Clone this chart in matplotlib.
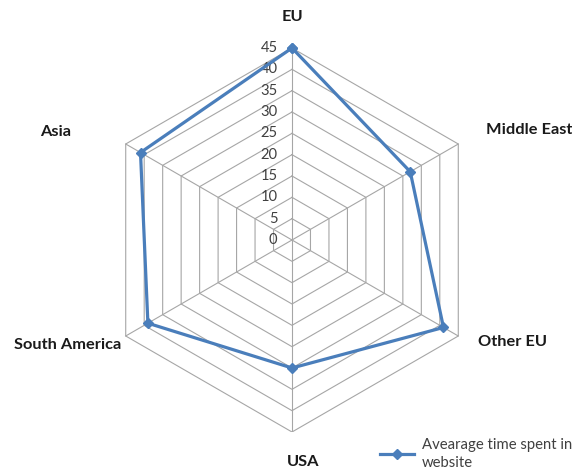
import numpy as np
import matplotlib
matplotlib.use("Agg")
import matplotlib.pyplot as plt

plt.rcParams['font.family'] = ['Lato', 'DejaVu Sans']

categories = ['EU', 'Middle East', 'Other EU', 'USA', 'South America', 'Asia']
values = [45, 32, 41, 30, 39, 41]
series_name = 'Avearage time spent in\nwebsite'
ticks = [0, 5, 10, 15, 20, 25, 30, 35, 40, 45]

R = 45
W, H = 572, 471
cx, cy, rad = 292, 240, 192   # centre and radius of the web in pixels

fig = plt.figure(figsize=(W / 100, H / 100), dpi=100)
ax = fig.add_axes([(cx - rad) / W, (H - cy - rad) / H, 2 * rad / W, 2 * rad / H])
ax.set_xlim(-R, R)
ax.set_ylim(-R, R)
ax.axis('off')

n = len(categories)
ang = np.pi / 2 - np.arange(n) * 2 * np.pi / n
ux, uy = np.cos(ang), np.sin(ang)

# hexagon grid + spokes
for t in ticks[1:]:
    ax.plot(np.append(ux, ux[0]) * t, np.append(uy, uy[0]) * t,
            color='#a6a6a6', lw=0.8, zorder=1)
for i in range(n):
    ax.plot([0, ux[i] * R], [0, uy[i] * R], color='#a6a6a6', lw=0.8, zorder=1)

# tick labels along the EU spoke
for t in ticks:
    ax.text(-3.4, t, str(t), ha='right', va='center', fontsize=10.6,
            color='#404040')

# data
v = np.array(values, dtype=float)
ax.plot(np.append(ux * v, ux[0] * v[0]), np.append(uy * v, uy[0] * v[0]),
        color='#4a7ebb', lw=2.3, marker='D', markersize=5.5,
        label=series_name, zorder=3, clip_on=False)

# category labels (pixel positions from the reference)
lab_pos = [(292, 17, 'center'), (486, 130, 'left'), (478, 342, 'left'),
           (303, 462, 'center'), (14, 345, 'left'), (40, 132, 'left')]
for name, (px, py, ha) in zip(categories, lab_pos):
    fig.text(px / W, 1 - py / H, name, ha=ha, va='center', fontsize=11.8,
             fontweight='bold', color='#1a1a1a')

ax.legend(loc='upper left', bbox_to_anchor=(380 / W, 1 - 438 / H),
          bbox_transform=fig.transFigure, frameon=False, fontsize=10.7,
          borderpad=0, borderaxespad=0, handlelength=2.3, handletextpad=0.5,
          labelspacing=0.2, labelcolor='#404040')
plt.setp(ax.get_legend().get_texts(), linespacing=1.35)

fig.savefig('out.png', dpi=100)
